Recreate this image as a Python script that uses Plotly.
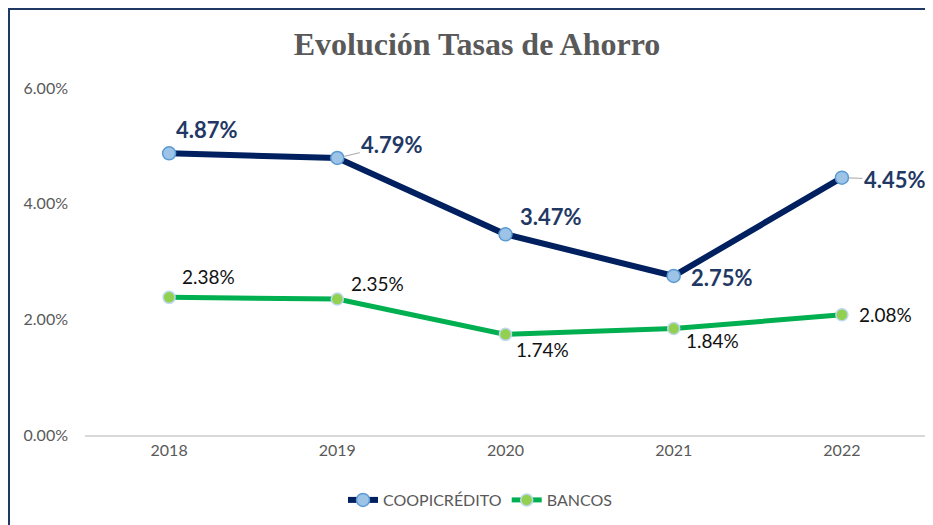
import plotly.graph_objects as go

years = [2018, 2019, 2020, 2021, 2022]
coopi = [4.87, 4.79, 3.47, 2.75, 4.45]
bancos = [2.38, 2.35, 1.74, 1.84, 2.08]
y_ticks = [0, 2, 4, 6]
y_tick_text = ['0.00%', '2.00%', '4.00%', '6.00%']

NAVY = '#002060'
GREEN = '#00B050'
GRAY = '#595959'
FONT = 'Lato'

# pixel offsets of each data label (dx, dy) relative to the point
coopi_off = [(38, 24), (55, 13), (45, 18), (48, -2), (53, -2)]
coopi_arrow = [False, True, False, False, True]
bancos_off = [(39, 21), (40, 16), (37, -15), (39, -12), (44, 0)]

# the page adds an 8px body margin, so the figure is made 8px smaller and
# plot-area pixels are shifted by 8
FW, FH = 925, 517
L, T, W, H = 77, 80, 841, 347

fig = go.Figure()
fig.add_trace(go.Scatter(
    x=years, y=coopi, name='COOPICRÉDITO', mode='lines+markers',
    line=dict(color=NAVY, width=6),
    marker=dict(size=13, color='#9DC3E6', line=dict(color='#5B9BD5', width=1.5)),
))
fig.add_trace(go.Scatter(
    x=years, y=bancos, name='BANCOS', mode='lines+markers',
    line=dict(color=GREEN, width=5),
    marker=dict(size=12, color='#92D050', line=dict(color='#BDD7EE', width=1.5)),
))

for yr, v, (dx, dy), arr in zip(years, coopi, coopi_off, coopi_arrow):
    lbl_font = dict(family=FONT, size=22, color='#1F3864', weight='bold')
    if arr:
        fig.add_annotation(x=yr, y=v, text=f'{v:.2f}%', showarrow=True, ax=dx, ay=-dy,
                           arrowhead=0, arrowwidth=1, arrowcolor='#A6A6A6', standoff=7,
                           font=lbl_font)
    else:
        fig.add_annotation(x=yr, y=v, text=f'{v:.2f}%', showarrow=False, xshift=dx, yshift=dy,
                           font=lbl_font)

for yr, v, (dx, dy) in zip(years, bancos, bancos_off):
    fig.add_annotation(x=yr, y=v, text=f'{v:.2f}%', showarrow=False, xshift=dx, yshift=dy,
                       font=dict(family=FONT, size=19, color='#111111'))

# outer frame of the chart box
fig.add_shape(type='rect', xref='paper', yref='paper',
              x0=(1 - L) / W, x1=(950 - L) / W, y0=-0.4, y1=(T + H - 1) / H,
              line=dict(color='#1F3864', width=2))

fig.update_layout(
    width=FW, height=FH,
    paper_bgcolor='white', plot_bgcolor='white',
    margin=dict(l=L, r=FW - L - W, t=T, b=FH - T - H),
    title=dict(text='<b>Evolución Tasas de Ahorro</b>', x=469 / FW, xanchor='center',
               y=1 - 36 / FH, yanchor='middle',
               font=dict(family='Liberation Serif', size=32, color=GRAY)),
    xaxis=dict(range=[years[0] - 0.5, years[-1] + 0.5], tickvals=years,
               showgrid=False, zeroline=False, showline=True, linecolor='#D9D9D9',
               linewidth=1.5, ticks='', tickfont=dict(family=FONT, size=16, color=GRAY)),
    yaxis=dict(range=[0, 6], showgrid=False, zeroline=False, showline=False,
               tickvals=y_ticks, ticktext=y_tick_text, ticklabelstandoff=16,
               tickfont=dict(family=FONT, size=16, color=GRAY)),
    legend=dict(orientation='h', x=(472 - L) / W, xanchor='center', y=-65 / H,
                yanchor='middle', font=dict(family=FONT, size=16, color=GRAY)),
    showlegend=True,
)

fig.write_html('out.html')
